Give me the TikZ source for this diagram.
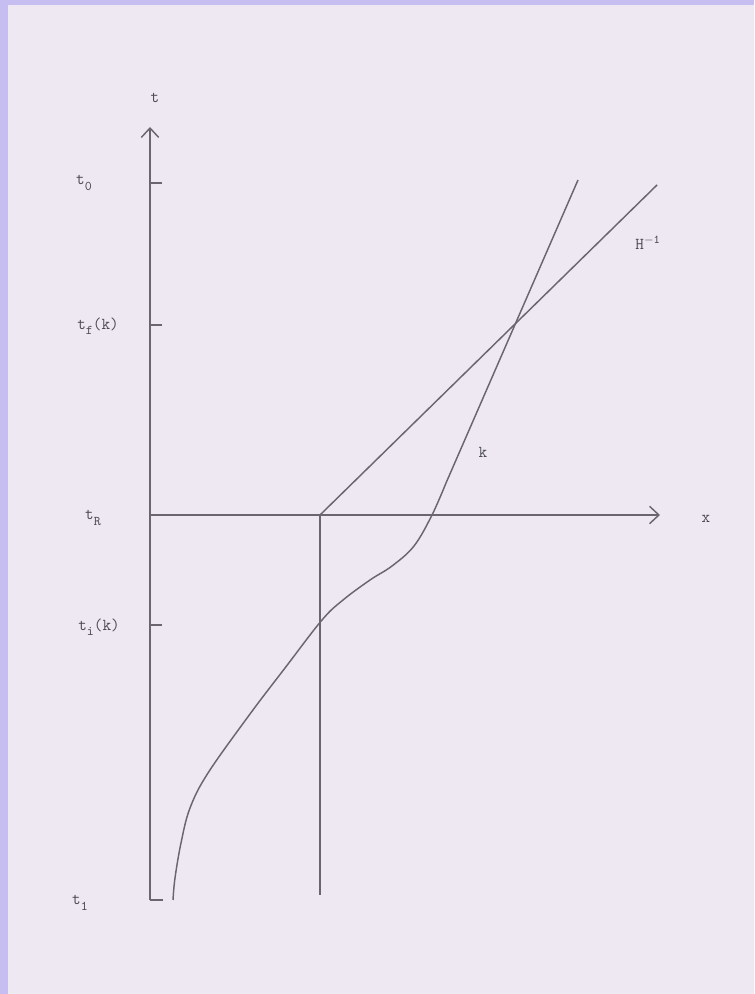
\documentclass[tikz,border=0pt]{standalone}
\usetikzlibrary{arrows.meta}
\definecolor{bgc}{HTML}{EEE8F3}
\definecolor{edgec}{HTML}{C6BEF0}
\definecolor{linec}{HTML}{6A6670}
\definecolor{txtc}{HTML}{4C4952}
\newcommand{\lab}[2]{#1\raisebox{-4pt}{\fontsize{10}{11}\selectfont #2}}
\begin{document}
\begin{tikzpicture}[x=0.75pt,y=-0.75pt,
  ax/.style={draw=linec,line width=1.1pt},
  axarrow/.style={ax,-{Straight Barb[length=7pt,width=13pt,line width=1.1pt]}},
  lbl/.style={text=txtc,font=\ttfamily\fontsize{12.5}{14}\selectfont,inner sep=1pt},
  tickmark/.style={ax}]
\useasboundingbox (0,0) rectangle (754,994);
\fill[bgc] (0,0) rectangle (754,994);
\fill[edgec] (0,0) rectangle (754,5);
\fill[edgec] (0,0) rectangle (8,994);
% coordinates
\coordinate (bot) at (150,900);
\coordinate (top) at (150,127);
\coordinate (orig) at (150,515);
\coordinate (xend) at (660,515);
\coordinate (R) at (320,515);
\coordinate (Rb) at (320,895);
\coordinate (Htop) at (657,185);
% axes
\draw[axarrow] (bot) -- (top);
\draw[axarrow] (orig) -- (xend);
\draw[ax] (R) -- (Rb);
\draw[ax] (R) -- (Htop);
% ticks
\coordinate (t0a) at (150,183); \coordinate (t0b) at (162,183);
\coordinate (tfa) at (150,325); \coordinate (tfb) at (162,325);
\coordinate (tia) at (150,625); \coordinate (tib) at (162,625);
\coordinate (t1a) at (150,900); \coordinate (t1b) at (163,900);
\draw[tickmark] (t0a) -- (t0b);
\draw[tickmark] (tfa) -- (tfb);
\draw[tickmark] (tia) -- (tib);
\draw[tickmark] (t1a) -- (t1b);
% curve k
\draw[ax] plot[smooth,tension=0.6] coordinates {
 (173,900) (175,878) (181,843) (190,808) (208,773) (250,714) (285,668) (322,620)
 (343,600) (370,580) (392,566) (414,546) (432,515) (446,483)}
 -- (578,180);
% labels
\node[lbl] (lt) at (155,98) {t};
\node[lbl] (lx) at (706,519) {x};
\node[lbl] (lt0) at (84,183) {\lab{t}{0}};
\node[lbl] (ltf) at (98,326) {\lab{t}{f}(k)};
\node[lbl] (ltR) at (93,518) {\lab{t}{R}};
\node[lbl] (lti) at (99,627) {\lab{t}{i}(k)};
\node[lbl] (lt1) at (80,903) {\lab{t}{1}};
\node[lbl] (lH) at (648,243) {H$^{\mathtt{-1}}$};
\node[lbl] (lk) at (483,452) {k};
\end{tikzpicture}
\end{document}
